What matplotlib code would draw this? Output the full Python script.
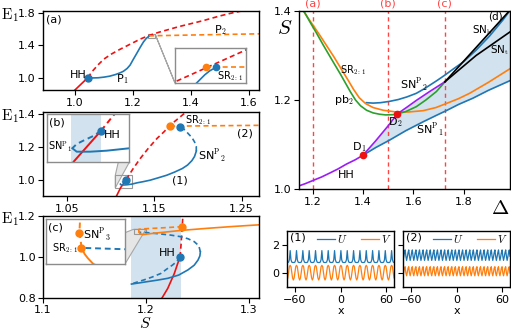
import numpy as np
import matplotlib
matplotlib.use('Agg')
import matplotlib.pyplot as plt
from mpl_toolkits.axes_grid1.inset_locator import BboxConnectorPatch, BboxPatch, TransformedBbox

plt.rcParams['font.family'] = 'DejaVu Sans'
plt.rcParams['mathtext.fontset'] = 'cm'
plt.rcParams['font.size'] = 8
plt.rcParams['axes.linewidth'] = 1.0

BLUE = '#1f77b4'; ORANGE = '#ff7f0e'; GREEN = '#2ca02c'; RED = '#ee1111'
PURPLE = '#9b1cf5'; SHADE = '#d3e2ef'; VRED = '#ff4444'

# ---------------- data: panel (a) ----------------
a_red_st_S = [1.0, 1.044]; a_red_st_E = [0.85, 1.0]
a_red_un_S = [1.044, 1.06, 1.08, 1.10, 1.125, 1.15, 1.175, 1.20, 1.225, 1.253, 1.29, 1.32, 1.36, 1.40, 1.44, 1.47, 1.50, 1.534, 1.6, 1.64]
a_red_un_E = [1.0, 1.08, 1.16, 1.23, 1.29, 1.34, 1.385, 1.43, 1.475, 1.517, 1.56, 1.59, 1.63, 1.665, 1.70, 1.73, 1.76, 1.79, 1.84, 1.87]
a_P1_S = [1.044, 1.06, 1.08, 1.10, 1.12, 1.14, 1.155, 1.167, 1.18, 1.19, 1.20, 1.213, 1.225, 1.236, 1.246, 1.256]
a_P1_E = [1.0, 0.998, 1.0, 1.008, 1.02, 1.04, 1.06, 1.08, 1.115, 1.156, 1.22, 1.30, 1.375, 1.44, 1.485, 1.513]
a_P2_S = [1.256, 1.4, 1.64]; a_P2_E = [1.515, 1.525, 1.54]
a_HH = (1.044, 1.0)
# inset (a)
ai_red_S = [1.25, 1.278]; ai_red_E = [1.488, 1.538]
ai_or_S = [1.2625, 1.278]; ai_or_E = [1.5111, 1.5111]
ai_bl_S = [1.2593, 1.2621, 1.2638, 1.2659]; ai_bl_E = [1.49, 1.5011, 1.5065, 1.5111]

# ---------------- data: panel (b) ----------------
b_red_st_S = [1.1064, 1.1112, 1.1175]; b_red_st_E = [0.90, 0.951, 1.0]
b_red_un_S = [1.1175, 1.120, 1.126, 1.134, 1.143, 1.153, 1.161, 1.168, 1.176, 1.184, 1.19]
b_red_un_E = [1.0, 1.0213, 1.07, 1.13, 1.19, 1.25, 1.29, 1.33, 1.365, 1.40, 1.43]
b_bl_u1_S = [1.1175, 1.1157, 1.1134, 1.1119, 1.1109]
b_bl_u1_E = [1.0, 0.9916, 0.9842, 0.979, 0.9722]
b_bl_st_S = [1.1109, 1.1119, 1.115, 1.1188, 1.124, 1.13, 1.137, 1.145, 1.154, 1.164, 1.173, 1.182, 1.188, 1.193, 1.196, 1.198]
b_bl_st_E = [0.9722, 0.9668, 0.9668, 0.9684, 0.9722, 0.98, 0.987, 0.996, 1.01, 1.026, 1.045, 1.067, 1.088, 1.115, 1.14, 1.172]
b_bl_u2_S = [1.198, 1.198, 1.196, 1.193, 1.189, 1.186, 1.183, 1.179]
b_bl_u2_E = [1.172, 1.2, 1.228, 1.255, 1.277, 1.295, 1.309, 1.319]
b_or_S = [1.168, 1.27]; b_or_E = [1.324, 1.329]
b_HH = (1.1175, 1.0); b_SR = (1.168, 1.323); b_SN2 = (1.179, 1.319)
b_band = (1.1107, 1.1174)

# ---------------- data: panel (c) ----------------
c_red_st_S = [1.2157, 1.2213, 1.2277, 1.231, 1.2333]; c_red_st_E = [0.8, 0.847, 0.92, 0.969, 1.0]
c_red_un_S = [1.2333, 1.2343, 1.2353, 1.236]; c_red_un_E = [1.0, 1.067, 1.148, 1.2]
c_bl_u1_S = [1.2333, 1.23, 1.226, 1.22, 1.2147, 1.206, 1.198, 1.191, 1.186]
c_bl_u1_E = [1.0, 0.978, 0.961, 0.94, 0.92, 0.902, 0.888, 0.877, 0.868]
c_bl_st_S = [1.186, 1.194, 1.2017, 1.211, 1.2213, 1.232, 1.2409, 1.247, 1.2507, 1.2525, 1.253]
c_bl_st_E = [0.868, 0.874, 0.88, 0.887, 0.896, 0.912, 0.937, 0.96, 0.985, 1.005, 1.025]
c_bl_u2_S = [1.253, 1.2515, 1.247, 1.241, 1.234, 1.224, 1.2147, 1.2, 1.1934]
c_bl_u2_E = [1.025, 1.055, 1.075, 1.089, 1.099, 1.107, 1.112, 1.1196, 1.1203]
c_or_st_S = [1.1934, 1.1939, 1.1944, 1.1952, 1.197, 1.203, 1.21, 1.235, 1.26, 1.285, 1.31]
c_or_st_E = [1.1204, 1.1171, 1.1149, 1.112, 1.1095, 1.113, 1.117, 1.13, 1.14, 1.149, 1.157]
c_or_un_S = [1.1934, 1.1933, 1.1931, 1.1932, 1.196, 1.215, 1.2353]
c_or_un_E = [1.1204, 1.1243, 1.1278, 1.135, 1.137, 1.142, 1.148]
c_HH = (1.2333, 1.0); c_top = (1.2353, 1.148)
c_SN3 = (1.1931, 1.1278); c_SR = (1.1934, 1.1204)
c_band = (1.186, 1.234)

# ---------------- data: panel (d) ----------------
d_HH_D = [1.145, 1.17, 1.2, 1.235, 1.268, 1.3, 1.334, 1.37, 1.4, 1.45, 1.5, 1.537, 1.575, 1.612, 1.665, 1.726]
d_HH_S = [1.007, 1.012, 1.019, 1.027, 1.036, 1.045, 1.056, 1.066, 1.076, 1.108, 1.142, 1.169, 1.184, 1.199, 1.219, 1.241]
d_pb_D = [1.162, 1.19, 1.215, 1.24, 1.268, 1.29, 1.31, 1.33, 1.35, 1.37, 1.39, 1.414, 1.44, 1.466, 1.49, 1.519, 1.537, 1.57, 1.612, 1.65, 1.692, 1.726]
d_pb_S = [1.402, 1.374, 1.35, 1.325, 1.298, 1.277, 1.258, 1.238, 1.218, 1.2, 1.187, 1.177, 1.171, 1.168, 1.1665, 1.167, 1.169, 1.174, 1.185, 1.2, 1.219, 1.241]
d_SR_D = [1.155, 1.19, 1.225, 1.255, 1.285, 1.315, 1.34, 1.362, 1.385, 1.41, 1.44, 1.48, 1.533, 1.58, 1.639, 1.69, 1.731, 1.78, 1.824, 1.9, 1.987]
d_SR_S = [1.406, 1.377, 1.348, 1.322, 1.296, 1.268, 1.245, 1.224, 1.205, 1.192, 1.183, 1.177, 1.173, 1.173, 1.176, 1.183, 1.192, 1.203, 1.215, 1.24, 1.271]
d_SN1_D = [1.4, 1.45, 1.506, 1.57, 1.639, 1.69, 1.731, 1.78, 1.837, 1.9, 1.987]
d_SN1_S = [1.076, 1.093, 1.110, 1.131, 1.151, 1.165, 1.176, 1.19, 1.204, 1.222, 1.244]
d_SN2_D = [1.413, 1.44, 1.47, 1.506, 1.54, 1.575, 1.612, 1.64, 1.665, 1.695, 1.726, 1.76, 1.8, 1.85, 1.904, 1.957, 1.99]
d_SN2_S = [1.194, 1.193, 1.194, 1.197, 1.201, 1.207, 1.215, 1.224, 1.233, 1.244, 1.256, 1.27, 1.286, 1.312, 1.344, 1.38, 1.405]
d_SNb_D = [1.726, 1.85, 1.99]; d_SNb_S = [1.241, 1.318, 1.405]
d_SNt_D = [1.726, 1.85, 1.99]; d_SNt_S = [1.241, 1.30, 1.355]
d_D1 = (1.4, 1.076); d_D2 = (1.537, 1.169)
d_cuts = [1.2, 1.5, 1.725]; d_cut_labels = ['(a)', '(b)', '(c)']

# ---------------- data: profiles (1), (2) ----------------
p1_U_period = [0.75, 0.75, 0.78, 0.95, 1.6, 0.95, 0.78, 0.75]
p1_V_period = [-0.5, -0.35, 0.05, 0.45, 0.55, 0.45, 0.05, -0.35]
p1_nper = 17
p2_U_period = [0.9, 1.15, 1.45, 1.65, 1.2]
p2_V_period = [-0.2, 0.05, 0.35, 0.45, 0.0]
p2_nper = 30

W, H = 511, 329
fig = plt.figure(figsize=(5.11, 3.29), dpi=100)

def rect(l, t, r, b):
    return [l / W, 1 - b / H, (r - l) / W, (b - t) / H]

def style(ax, pad=2):
    ax.tick_params(direction='out', length=3.5, width=0.8, labelsize=8, pad=pad)

def connect(parent, inset, l1a, l1b, l2a, l2b):
    bb = TransformedBbox(inset.viewLim, parent.transData)
    p = BboxPatch(bb, fc='none', ec='0.6', lw=0.8)
    parent.add_patch(p)
    c = BboxConnectorPatch(bb, inset.bbox, loc1a=l1a, loc2a=l2a, loc1b=l1b, loc2b=l2b,
                           fc='0.9', ec='0.65', lw=0.8, zorder=0.5)
    c.set_clip_on(False)
    parent.add_patch(c)

def inset_style(ax):
    ax.set_xticks([]); ax.set_yticks([])
    for s in ax.spines.values():
        s.set_color('0.55'); s.set_linewidth(1.0)

dash = (0, (3, 2))

# ================= panel (a) =================
axa = fig.add_axes(rect(43, 11, 259, 90))
style(axa)
axa.plot(a_red_st_S, a_red_st_E, color=RED, lw=1.2)
axa.plot(a_red_un_S, a_red_un_E, color=RED, lw=1.2, ls=dash)
axa.plot(a_P1_S, a_P1_E, color=BLUE, lw=1.2)
axa.plot(a_P2_S, a_P2_E, color=ORANGE, lw=1.2, ls=dash)
axa.plot(*a_HH, 'o', color=BLUE, ms=5)
axa.set_xlim(0.89, 1.634); axa.set_ylim(0.85, 1.82)
axa.set_xticks([1.0, 1.2, 1.4, 1.6]); axa.set_yticks([1.0, 1.4, 1.8])
axa.text(0.015, 0.96, '(a)', transform=axa.transAxes, va='top', fontsize=8)
axa.text(1.04, 1.03, 'HH', ha='right', va='center', fontsize=8)
axa.text(1.14, 0.99, 'P$_1$', fontsize=8, va='center')
axa.text(1.48, 1.59, 'P$_2$', fontsize=8, va='center')
axai = fig.add_axes(rect(175, 48, 246, 83))
inset_style(axai)
axai.plot(ai_red_S, ai_red_E, color=RED, lw=1.2, ls=dash)
axai.plot(ai_or_S, ai_or_E, color=ORANGE, lw=1.2, ls=dash)
axai.plot(ai_bl_S, ai_bl_E, color=BLUE, lw=1.2)
axai.plot(ai_or_S[0], ai_or_E[0], 'o', color=ORANGE, ms=4.5)
axai.plot(ai_bl_S[-1], ai_bl_E[-1], 'o', color=BLUE, ms=4.5)
axai.text(1.2662, 1.499, 'SR$_{2:1}$', fontsize=7, va='center')
axai.set_xlim(1.252, 1.276); axai.set_ylim(1.49, 1.537)
connect(axa, axai, 1, 1, 3, 3)

# ================= panel (b) =================
axb = fig.add_axes(rect(43, 112, 259, 196))
style(axb)
axb.plot(b_red_st_S, b_red_st_E, color=RED, lw=1.2)
axb.plot(b_red_un_S, b_red_un_E, color=RED, lw=1.2, ls=dash)
axb.plot(b_bl_u1_S, b_bl_u1_E, color=BLUE, lw=1.2, ls=dash)
axb.plot(b_bl_st_S, b_bl_st_E, color=BLUE, lw=1.2)
axb.plot(b_bl_u2_S, b_bl_u2_E, color=BLUE, lw=1.2, ls=dash)
axb.plot(b_or_S, b_or_E, color=ORANGE, lw=1.2, ls=dash)
axb.plot(*b_HH, 'o', color=BLUE, ms=5)
axb.plot(*b_SR, 'o', color=ORANGE, ms=5)
axb.plot(*b_SN2, 'o', color=BLUE, ms=5)
axb.set_xlim(1.022, 1.27); axb.set_ylim(0.90, 1.41)
axb.set_xticks([1.05, 1.15, 1.25]); axb.set_yticks([1.0, 1.2, 1.4])
axb.text(1.185, 1.36, 'SR$_{2:1}$', fontsize=7, va='center')
axb.text(1.245, 1.28, '(2)', fontsize=8, va='center')
axb.text(1.2, 1.147, 'SN$^{\\mathrm{P}}{}_{2}$', fontsize=8, va='center')
axb.text(1.17, 0.994, '(1)', fontsize=8, va='center')
axbi = fig.add_axes(rect(46.7, 114.3, 129.3, 162.3))
inset_style(axbi)
axbi.axvspan(*b_band, color=SHADE, lw=0)
axbi.plot(b_red_st_S, b_red_st_E, color=RED, lw=1.4)
axbi.plot(b_red_un_S, b_red_un_E, color=RED, lw=1.4, ls=dash)
axbi.plot(b_bl_u1_S, b_bl_u1_E, color=BLUE, lw=1.4, ls=dash)
axbi.plot(b_bl_st_S, b_bl_st_E, color=BLUE, lw=1.4)
axbi.plot(*b_HH, 'o', color=BLUE, ms=5)
axbi.set_xlim(1.105, 1.124); axbi.set_ylim(0.95, 1.026)
axbi.text(0.03, 0.93, '(b)', transform=axbi.transAxes, va='top', fontsize=8)
axbi.text(1.1181, 0.993, 'HH', fontsize=8, va='center')
axbi.text(1.1053, 0.9735, 'SN$^{\\mathrm{P}}{}_{1}$', fontsize=7, va='center')
connect(axb, axbi, 2, 3, 1, 4)

# ================= panel (c) =================
axc = fig.add_axes(rect(43, 216, 259, 298))
style(axc, pad=1.5)
axc.axvspan(*c_band, color=SHADE, lw=0, zorder=0)
axc.plot(c_red_st_S, c_red_st_E, color=RED, lw=1.2)
axc.plot(c_red_un_S, c_red_un_E, color=RED, lw=1.2, ls=dash)
axc.plot(c_bl_u1_S, c_bl_u1_E, color=BLUE, lw=1.2, ls=dash)
axc.plot(c_bl_st_S, c_bl_st_E, color=BLUE, lw=1.2)
axc.plot(c_bl_u2_S, c_bl_u2_E, color=BLUE, lw=1.2, ls=dash)
axc.plot(c_or_st_S, c_or_st_E, color=ORANGE, lw=1.2)
axc.plot(c_or_un_S, c_or_un_E, color=ORANGE, lw=1.2, ls=dash)
axc.plot(*c_HH, 'o', color=BLUE, ms=5)
axc.plot(*c_top, 'o', color=ORANGE, ms=5)
axc.set_xlim(1.1, 1.31); axc.set_ylim(0.8, 1.2)
axc.set_xticks([1.1, 1.2, 1.3]); axc.set_yticks([0.8, 1.0, 1.2])
axc.text(1.229, 1.02, 'HH', ha='right', va='center', fontsize=8)
axci = fig.add_axes(rect(45.7, 219.3, 125, 264))
inset_style(axci)
axci.plot(c_or_st_S, c_or_st_E, color=ORANGE, lw=1.4)
axci.plot(c_or_un_S, c_or_un_E, color=ORANGE, lw=1.4, ls=dash)
axci.plot(c_bl_u2_S, c_bl_u2_E, color=BLUE, lw=1.4, ls=dash)
axci.plot(*c_SN3, 'o', color=ORANGE, ms=5)
axci.plot(*c_SR, 'o', color=ORANGE, ms=5)
axci.set_xlim(1.188, 1.2); axci.set_ylim(1.112, 1.135)
axci.text(0.03, 0.93, '(c)', transform=axci.transAxes, va='top', fontsize=8)
axci.text(1.1937, 1.1273, 'SN$^{\\mathrm{P}}{}_{3}$', fontsize=8, va='center')
axci.text(1.1929, 1.1204, 'SR$_{2:1}$', fontsize=7, va='center', ha='right')
connect(axc, axci, 2, 1, 3, 4)

# ================= panel (d) =================
axd = fig.add_axes(rect(299, 11, 510, 189))
style(axd)
upD = np.interp(d_SN1_D, d_HH_D + d_SNb_D[1:], d_HH_S + d_SNb_S[1:])
axd.fill_between(d_SN1_D, d_SN1_S, upD, color=SHADE, lw=0, zorder=0)
for xv, lab in zip(d_cuts, d_cut_labels):
    axd.axvline(xv, color=VRED, lw=1.0, ls=(0, (3, 2.5)))
    axd.text(xv, 1.405, lab, color=VRED, ha='center', va='bottom', fontsize=8)
axd.plot(d_SN1_D, d_SN1_S, color=BLUE, lw=1.2)
axd.plot(d_SN2_D, d_SN2_S, color=BLUE, lw=1.2)
axd.plot(d_SR_D, d_SR_S, color=ORANGE, lw=1.2)
axd.plot(d_pb_D, d_pb_S, color=GREEN, lw=1.2)
axd.plot(d_HH_D, d_HH_S, color=PURPLE, lw=1.2)
axd.plot(d_SNb_D, d_SNb_S, color='black', lw=1.2)
axd.plot(d_SNt_D, d_SNt_S, color='black', lw=1.2)
axd.plot(*d_D1, 'o', color=RED, ms=4.5, zorder=5)
axd.plot(*d_D2, 'o', color=RED, ms=4.5, zorder=5)
axd.set_xlim(1.145, 1.985); axd.set_ylim(1.0, 1.4)
axd.set_xticks([1.2, 1.4, 1.6, 1.8]); axd.set_yticks([1.0, 1.2, 1.4])
axd.text(1.307, 1.267, 'SR$_{2:1}$', fontsize=7, va='center')
axd.text(1.285, 1.2, 'pb$_2$', fontsize=8, va='center')
axd.text(1.546, 1.234, 'SN$^{\\mathrm{P}}{}_{2}$', fontsize=8, va='center')
axd.text(1.5, 1.151, 'D$_2$', fontsize=8, va='center')
axd.text(1.612, 1.133, 'SN$^{\\mathrm{P}}{}_{1}$', fontsize=8, va='center')
axd.text(1.355, 1.095, 'D$_1$', fontsize=8, va='center')
axd.text(1.3, 1.031, 'HH', fontsize=8, va='center')
axd.text(1.832, 1.356, 'SN$_{\\mathrm{b}}$', fontsize=7.5, va='center')
axd.text(1.905, 1.312, 'SN$_{\\mathrm{t}}$', fontsize=7.5, va='center')
axd.text(0.965, 0.995, '(d)', transform=axd.transAxes, ha='right', va='top', fontsize=7.5)

# ================= panels (1), (2) =================
def profile(ax, Up, Vp, nper, tag, ylab):
    U = np.tile(Up, nper); V = np.tile(Vp, nper)
    x = np.linspace(-70, 70, len(U))
    ax.plot(x, U, color=BLUE, lw=0.9, label='$U$')
    ax.plot(x, V, color=ORANGE, lw=0.9, label='$V$')
    ax.set_xlim(-70, 70); ax.set_ylim(-1, 3)
    ax.set_xticks([-60, 0, 60]); ax.set_yticks([0, 2])
    if not ylab:
        ax.set_yticklabels([])
    ax.set_xlabel('x', fontsize=8, labelpad=1)
    ax.text(0.03, 0.97, tag, transform=ax.transAxes, va='top', fontsize=8)
    ax.legend(loc='upper right', ncol=2, frameon=False, fontsize=8, handlelength=1.6,
              handletextpad=0.2, columnspacing=1.2, borderpad=0.1, borderaxespad=0.1)

ax1 = fig.add_axes(rect(287, 231, 394, 287)); style(ax1)
profile(ax1, p1_U_period, p1_V_period, p1_nper, '(1)', True)
ax2 = fig.add_axes(rect(403, 231, 510, 287)); style(ax2)
profile(ax2, p2_U_period, p2_V_period, p2_nper, '(2)', False)

# axis labels
for yy in (15, 116, 219):
    fig.text(1 / W, 1 - yy / H, '$\\mathrm{E}_1$', fontsize=11, va='center', ha='left')
fig.text(285 / W, 1 - 28 / H, '$S$', fontsize=15, va='center', ha='center')
fig.text(500 / W, 1 - 208 / H, '$\\Delta$', fontsize=15, va='center', ha='center')
fig.text(145 / W, 1 - 327.5 / H, '$S$', fontsize=11.5, va='baseline', ha='center')

fig.savefig('out.png', dpi=100)
